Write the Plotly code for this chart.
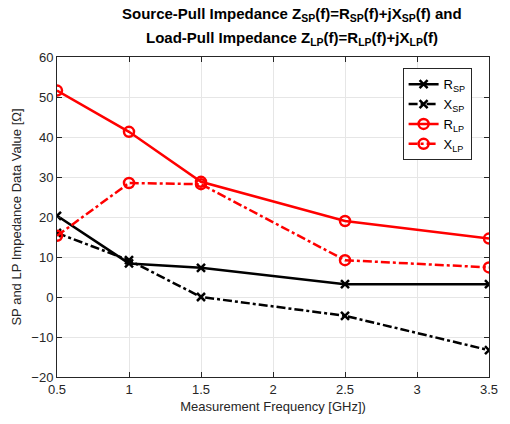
import plotly.graph_objects as go

freq = [0.5, 1.0, 1.5, 2.5, 3.5]
r_sp = [20.3, 8.4, 7.3, 3.2, 3.2]
x_sp = [16.0, 9.2, 0.0, -4.7, -13.3]
r_lp = [51.6, 41.3, 28.8, 19.0, 14.6]
x_lp = [15.3, 28.5, 28.2, 9.2, 7.4]

names = ["R<sub>SP</sub>", "X<sub>SP</sub>", "R<sub>LP</sub>", "X<sub>LP</sub>"]
x_ticks = [0.5, 1, 1.5, 2, 2.5, 3, 3.5]
y_ticks = [-20, -10, 0, 10, 20, 30, 40, 50, 60]

title_lines = [
    "<b>Source-Pull Impedance Z<sub>SP</sub>(f)=R<sub>SP</sub>(f)+jX<sub>SP</sub>(f) and</b>",
    "<b>Load-Pull Impedance Z<sub>LP</sub>(f)=R<sub>LP</sub>(f)+jX<sub>LP</sub>(f)</b>",
]

fig = go.Figure()
styles = [
    (r_sp, "black", "solid", "x-thin-open", 8),
    (x_sp, "black", "dashdot", "x-thin-open", 8),
    (r_lp, "#ff0000", "solid", "circle-open", 10),
    (x_lp, "#ff0000", "dashdot", "circle-open", 10),
]
for (vals, col, dash, sym, sz), nm in zip(styles, names):
    fig.add_trace(go.Scatter(
        x=freq, y=vals, name=nm, mode="lines+markers",
        line=dict(color=col, width=2.5, dash=dash),
        marker=dict(symbol=sym, size=sz, color=col, line=dict(color=col, width=2.5)),
    ))

for i, t in enumerate(title_lines):
    fig.add_annotation(
        text=t, xref="paper", yref="paper", x=0.545, xanchor="center",
        y=1.0 + (43 - 24 * i) / 321, yanchor="middle", showarrow=False,
        font=dict(size=15, color="black", family="Liberation Sans, Arial"),
    )

fig.update_layout(
    width=510, height=424,
    margin=dict(l=57, r=13, t=57, b=46),
    paper_bgcolor="white", plot_bgcolor="white",
    font=dict(family="Liberation Sans, Arial", size=13, color="#262626"),
    xaxis=dict(
        range=[0.5, 3.5], tickvals=x_ticks, ticktext=[str(t) for t in x_ticks],
        showgrid=True, gridcolor="#e6e6e6", gridwidth=1,
        showline=True, linecolor="#262626", linewidth=1, mirror="ticks",
        ticks="inside", ticklen=5, tickcolor="#262626",
        zeroline=False,
        title=dict(text="Measurement Frequency [GHz])", standoff=6, font=dict(size=13)),
    ),
    yaxis=dict(
        range=[-20, 60], tickvals=y_ticks,
        showgrid=True, gridcolor="#e6e6e6", gridwidth=1,
        showline=True, linecolor="#262626", linewidth=1, mirror="ticks",
        ticks="inside", ticklen=5, tickcolor="#262626",
        zeroline=False,
        title=dict(text="SP and LP Impedance Data Value [Ω]", standoff=6, font=dict(size=13)),
    ),
    legend=dict(
        x=0.80, y=0.965, xanchor="left", yanchor="top",
        bgcolor="white", bordercolor="#262626", borderwidth=1,
        font=dict(size=13, color="black"), tracegroupgap=0,
        itemwidth=30,
    ),
)

fig.write_html("out.html", post_script="document.body.style.margin='0';",
               config={"displayModeBar": False})
